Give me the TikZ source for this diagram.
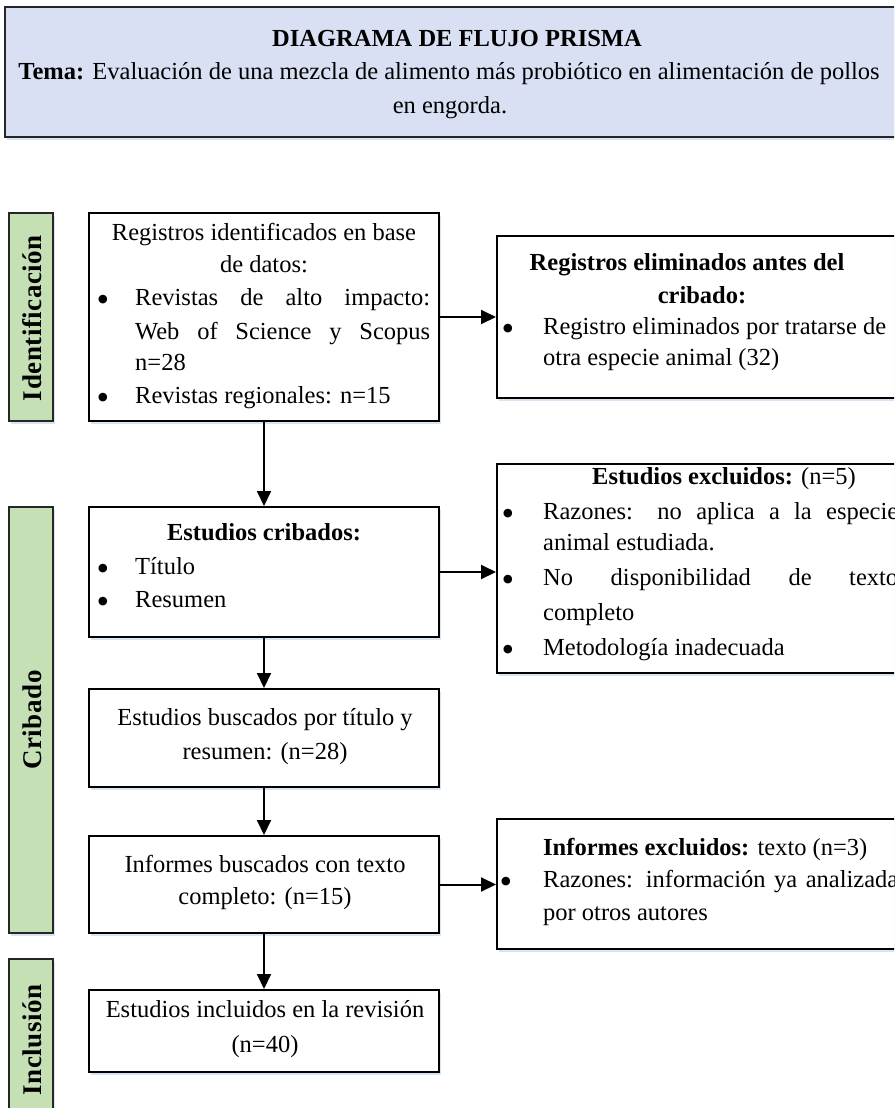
\documentclass[tikz,border=0pt]{standalone}
\usepackage{fontspec}
\setmainfont{Liberation Serif}
\usetikzlibrary{arrows.meta,shadows}
\definecolor{titlefill}{HTML}{D9E0F3}
\definecolor{barfill}{HTML}{C5E0B4}
\definecolor{glow}{HTML}{D3E1F3}
\newcommand\bigbul{{\fontsize{36}{33}\selectfont\textbullet}}
\tikzset{
  glowshadow/.style={drop shadow={shadow xshift=1.5pt, shadow yshift=-3pt, fill=glow, opacity=0.9}},
  box/.style={draw=black, line width=2pt, fill=white, glowshadow, inner sep=0pt},
  titlebox/.style={draw=black!85, line width=2pt, fill=titlefill, glowshadow, inner sep=0pt},
  bar/.style={draw=black!85, line width=1.8pt, fill=barfill, glowshadow, inner sep=0pt, minimum width=44},
  txt/.style={inner sep=0pt, font=\fontsize{24.5}{33}\selectfont},
  bul/.style={inner sep=0pt, font=\fontsize{24.5}{33}\selectfont},
  lbl/.style={inner sep=0pt, rotate=90, font=\fontsize{27}{33}\selectfont\bfseries\addfontfeature{LetterSpace=2}},
  arr/.style={line width=2pt, -{Triangle[length=15pt,width=14pt]}},
}
\begin{document}
\begin{tikzpicture}[x=1pt,y=-1pt]
\useasboundingbox (0,0) rectangle (894,1108);
\begin{scope}
\clip (0,0) rectangle (894,1108);
% title
\node[titlebox, minimum width=900, minimum height=130] (title) at (455,72) {};
\node[txt, anchor=base] (t1) at (457,47) {\bfseries DIAGRAMA DE FLUJO PRISMA};
\node[txt, anchor=base] (t2) at (449,80) {\textbf{Tema:} Evaluación de una mezcla de alimento más probiótico en alimentación de pollos};
\node[txt, anchor=base] (t3) at (450,113) {en engorda.};

% phase bars
\node[bar, minimum height=208] (pid) at (31,317) {};
\node[lbl] (lid) at (32,318) {Identificación};
\node[bar, minimum height=426] (pcr) at (31,720) {};
\node[lbl] (lcr) at (32,720) {Cribado};
\node[bar, minimum height=180] (pin) at (31,1049) {};
\node[lbl] (lin) at (32,1040) {Inclusión};

% left column boxes
\node[box, minimum width=350, minimum height=208] (b1) at (264,317) {};
\node[box, minimum width=350, minimum height=130] (b2) at (264,572) {};
\node[box, minimum width=350, minimum height=98] (b3) at (264,738) {};
\node[box, minimum width=350, minimum height=97] (b4) at (264,884.5) {};
\node[box, minimum width=350, minimum height=82] (b5) at (264,1031) {};

% right column boxes
\node[box, minimum width=470, minimum height=162] (ra) at (732,317) {};
\node[box, minimum width=470, minimum height=209] (rb) at (732,568.5) {};
\node[box, minimum width=470, minimum height=130] (rc) at (732,884) {};

% connectors
\draw[arr] (b1.south) -- (b2.north);
\draw[arr] (b2.south) -- (b3.north);
\draw[arr] (b3.south) -- (b4.north);
\draw[arr] (b4.south) -- (b5.north);
\draw[arr] (b1.east) -- (b1.east -| ra.west);
\draw[arr] (b2.east) -- (b2.east -| rb.west);
\draw[arr] (b4.east) -- (b4.east -| rc.west);

% box 1 text
\node[txt, anchor=mid] (b1a) at (264,238) {Registros identificados en base};
\node[txt, anchor=mid] (b1b) at (264,270) {de datos:};
\node[bul] (b1c) at (103,303) {\bigbul};
\node[txt, anchor=mid west] (b1d) at (135,303) {\makebox[295pt][s]{Revistas de alto impacto:}};
\node[txt, anchor=mid west] (b1e) at (135,337) {\makebox[295pt][s]{Web of Science y Scopus}};
\node[txt, anchor=mid west] (b1f) at (135,368) {n=28};
\node[bul] (b1g) at (103,401) {\bigbul};
\node[txt, anchor=mid west] (b1h) at (135,401) {Revistas regionales: n=15};

% box 2 text
\node[txt, anchor=mid] (b2a) at (264,538) {\bfseries Estudios cribados:};
\node[bul] (b2b) at (103,572) {\bigbul};
\node[txt, anchor=mid west] (b2c) at (135,572) {Título};
\node[bul] (b2d) at (103,605) {\bigbul};
\node[txt, anchor=mid west] (b2e) at (135,605) {Resumen};

% box 3 text
\node[txt, anchor=mid] (b3a) at (265,723) {Estudios buscados por título y};
\node[txt, anchor=mid] (b3b) at (265,757) {resumen: (n=28)};

% box 4 text
\node[txt, anchor=mid] (b4a) at (265,870) {Informes buscados con texto};
\node[txt, anchor=mid] (b4b) at (265,902) {completo: (n=15)};

% box 5 text
\node[txt, anchor=mid] (b5a) at (265,1015) {Estudios incluidos en la revisión};
\node[txt, anchor=mid] (b5b) at (265,1050) {(n=40)};

% right box A text
\node[txt, anchor=mid] (raa) at (687,268) {\bfseries Registros eliminados antes del};
\node[txt, anchor=mid] (rab) at (702,301) {\bfseries cribado:};
\node[bul] (rac) at (508,332) {\bigbul};
\node[txt, anchor=mid west] (rad) at (543,332) {Registro eliminados por tratarse de};
\node[txt, anchor=mid west] (rae) at (543,363) {otra especie animal (32)};

% right box B text
\node[txt, anchor=mid] (rba) at (724,482) {\textbf{Estudios excluidos:} (n=5)};
\node[bul] (rbb) at (508,517) {\bigbul};
\node[txt, anchor=mid west] (rbc) at (543,517) {\makebox[355pt][s]{Razones: no aplica a la especie}};
\node[txt, anchor=mid west] (rbd) at (543,548) {animal estudiada.};
\node[bul] (rbe) at (508,583) {\bigbul};
\node[txt, anchor=mid west] (rbf) at (543,583) {\makebox[355pt][s]{No disponibilidad de texto}};
\node[txt, anchor=mid west] (rbg) at (543,618) {completo};
\node[bul] (rbh) at (508,653) {\bigbul};
\node[txt, anchor=mid west] (rbi) at (543,653) {Metodología inadecuada};

% right box C text
\node[txt, anchor=mid west] (rca) at (543,853) {\textbf{Informes excluidos:} texto (n=3)};
\node[bul] (rcb) at (506,885) {\bigbul};
\node[txt, anchor=mid west] (rcc) at (543,885) {\makebox[355pt][s]{Razones: información ya analizada}};
\node[txt, anchor=mid west] (rcd) at (543,918) {por otros autores};
\end{scope}
\end{tikzpicture}
\end{document}
